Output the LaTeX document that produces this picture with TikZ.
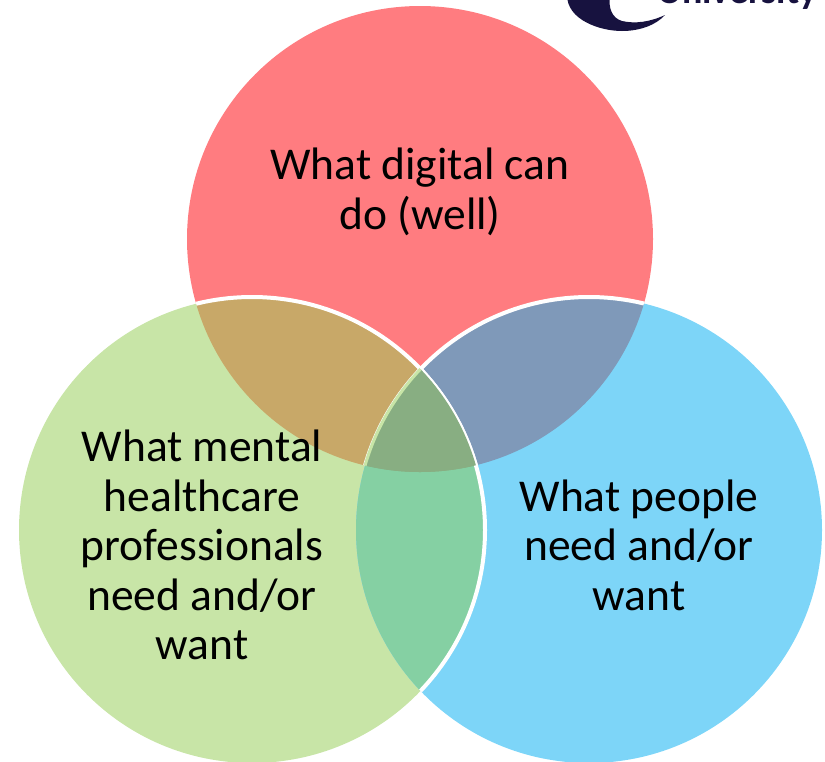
\documentclass[tikz,border=0pt]{standalone}
\usepackage{fontspec}
\setmainfont{Carlito}
\definecolor{cred}{HTML}{FF7C80}
\definecolor{cgreen}{HTML}{C8E5A7}
\definecolor{cblue}{HTML}{7DD5F8}
\definecolor{credgreen}{HTML}{C8A868}
\definecolor{credblue}{HTML}{7F99B9}
\definecolor{cgreenblue}{HTML}{85D0A3}
\definecolor{call}{HTML}{88AE82}
\definecolor{navy}{HTML}{17123F}
\tikzset{
  lab/.style={align=center,text=black,font=\fontsize{45.5}{49.5}\selectfont,inner sep=0pt},
  edge/.style={draw=white,line width=4pt}
}
\begin{document}
\begin{tikzpicture}[x=1pt,y=-1pt]
\useasboundingbox (0,0) rectangle (825,761);
\def\ctop{(420,239) circle [radius=233]}
\def\cleft{(252,530) circle [radius=233]}
\def\cright{(589,530) circle [radius=233]}
\begin{scope}
\clip (0,0) rectangle (825,761);
% logo
\fill[navy] (567,-5) .. controls (567,20) and (600,31) .. (622,31) .. controls (640,31) and (656,25) .. (665,15) .. controls (650,22) and (635,24) .. (622,21) .. controls (612,18) and (608,8) .. (610,-5) -- cycle;
\node[anchor=base west,inner sep=0pt,text=navy,font=\fontsize{38}{38}\selectfont\bfseries] (logo) at (657,3) {University};
% discs
\fill[cred] \ctop;
\fill[cgreen] \cleft;
\fill[cblue] \cright;
\begin{scope}\clip \ctop; \fill[credgreen] \cleft; \end{scope}
\begin{scope}\clip \ctop; \fill[credblue] \cright; \end{scope}
\begin{scope}\clip \cleft; \fill[cgreenblue] \cright; \end{scope}
\begin{scope}\clip \ctop; \clip \cleft; \fill[call] \cright; \end{scope}
% edges: half of each stroke lies inside its clip
\begin{scope}\clip \ctop; \draw[edge] \cright; \end{scope}
\begin{scope}\clip \ctop; \draw[edge] \cleft; \end{scope}
\begin{scope}\clip \cright; \draw[edge] \cleft; \end{scope}
\begin{scope}\clip \ctop; \clip \cleft; \fill[call] \cright; \end{scope}
\begin{scope}\clip \ctop; \clip \cleft; \draw[cgreen,line width=3pt] \cright; \end{scope}
\end{scope}
\node[lab] (a) at (420,192) {What digital can\\do (well)};
\node[lab] (b) at (202,545) {What mental\\healthcare\\professionals\\need and/or\\want};
\node[lab] (c) at (639,545) {What people\\need and/or\\want};
\end{tikzpicture}
\end{document}
